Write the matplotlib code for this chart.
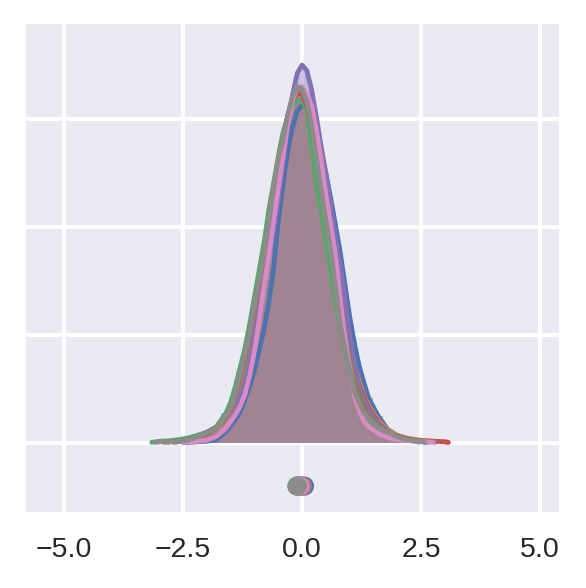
import numpy as np
import matplotlib
matplotlib.use("Agg")
import matplotlib.pyplot as plt

# ---- data (density values on a shared x grid) ----
grid_x = [-3.0, -2.8, -2.6, -2.4, -2.2, -2.0, -1.8, -1.6,
          -1.5, -1.4, -1.3, -1.2, -1.1, -1.0, -0.9, -0.8, -0.7, -0.6,
          -0.5, -0.4, -0.3, -0.2, -0.1, 0.0, 0.1, 0.2, 0.3, 0.4,
          0.5, 0.6, 0.7, 0.8, 0.9, 1.0, 1.1, 1.2, 1.3, 1.4,
          1.6, 1.8, 2.0, 2.2, 2.4, 2.6, 2.8, 3.0]

N = None
blue = [N, N, N, 0.001, 0.002, 0.003, 0.006, 0.020,
        0.032, 0.043, 0.058, 0.080, 0.105, 0.135, 0.17, 0.21, 0.26, 0.32,
        0.41, 0.48, 0.54, 0.585, 0.615, 0.625, 0.62, 0.605, 0.575, 0.54,
        0.50, 0.455, 0.405, 0.355, 0.295, 0.235, 0.185, 0.143, 0.112, 0.083,
        0.050, 0.025, 0.014, 0.008, 0.004, 0.002, N, N]
orange = [N, 0.002, 0.003, 0.005, 0.010, 0.018, 0.028, 0.050,
          0.065, 0.087, 0.122, 0.160, 0.200, 0.252, 0.297, 0.346, 0.401, 0.466,
          0.521, 0.561, 0.605, 0.636, 0.648, 0.646, 0.627, 0.592, 0.542, 0.492,
          0.442, 0.392, 0.338, 0.288, 0.238, 0.193, 0.145, 0.115, 0.088, 0.069,
          0.042, 0.024, 0.014, 0.009, 0.006, 0.004, 0.003, 0.002]
green = [0.003, 0.004, 0.006, 0.009, 0.014, 0.020, 0.030, 0.055,
         0.075, 0.105, 0.140, 0.175, 0.22, 0.27, 0.32, 0.37, 0.43, 0.48,
         0.53, 0.575, 0.605, 0.625, 0.635, 0.635, 0.615, 0.553, 0.48, 0.43,
         0.375, 0.32, 0.265, 0.215, 0.17, 0.132, 0.10, 0.073, 0.054, 0.041,
         0.025, 0.015, 0.009, 0.005, 0.003, N, N, N]
red = [N, N, 0.002, 0.005, 0.010, 0.018, 0.027, 0.048,
       0.063, 0.085, 0.12, 0.158, 0.198, 0.25, 0.295, 0.345, 0.40, 0.465,
       0.52, 0.56, 0.605, 0.635, 0.648, 0.645, 0.625, 0.59, 0.54, 0.49,
       0.44, 0.39, 0.335, 0.285, 0.235, 0.19, 0.138, 0.108, 0.084, 0.065,
       0.038, 0.020, 0.012, 0.008, 0.005, 0.004, 0.003, 0.002]
purple = [N, N, N, 0.002, 0.003, 0.006, 0.012, 0.024,
          0.038, 0.055, 0.082, 0.108, 0.145, 0.195, 0.245, 0.295, 0.345, 0.39,
          0.45, 0.52, 0.59, 0.645, 0.685, 0.70, 0.69, 0.655, 0.605, 0.55,
          0.50, 0.445, 0.38, 0.33, 0.27, 0.20, 0.148, 0.105, 0.078, 0.062,
          0.036, 0.021, 0.011, 0.006, 0.003, 0.002, N, N]
brown = [N, 0.002, 0.003, 0.005, 0.010, 0.019, 0.027, 0.049,
         0.065, 0.088, 0.124, 0.162, 0.202, 0.255, 0.298, 0.347, 0.403, 0.47,
         0.522, 0.56, 0.605, 0.64, 0.655, 0.652, 0.632, 0.592, 0.535, 0.48,
         0.425, 0.375, 0.315, 0.25, 0.20, 0.158, 0.118, 0.090, 0.068, 0.052,
         0.032, 0.020, 0.012, 0.007, 0.004, 0.003, 0.002, N]
pink = [N, N, N, 0.002, 0.003, 0.005, 0.012, 0.028,
        0.040, 0.052, 0.068, 0.090, 0.125, 0.17, 0.228, 0.29, 0.345, 0.41,
        0.47, 0.53, 0.59, 0.635, 0.658, 0.66, 0.648, 0.625, 0.58, 0.525,
        0.46, 0.405, 0.35, 0.27, 0.195, 0.14, 0.088, 0.060, 0.040, 0.030,
        0.018, 0.010, 0.006, 0.004, 0.003, 0.002, N, N]
gray = [0.002, 0.002, 0.003, 0.005, 0.011, 0.020, 0.027, 0.050,
        0.066, 0.090, 0.127, 0.165, 0.205, 0.258, 0.300, 0.348, 0.405, 0.475,
        0.525, 0.561, 0.608, 0.642, 0.660, 0.655, 0.633, 0.590, 0.530, 0.470,
        0.413, 0.360, 0.292, 0.222, 0.175, 0.135, 0.095, 0.073, 0.056, 0.045,
        0.028, 0.020, 0.011, 0.006, 0.004, N, N, N]

series = [blue, orange, green, red, purple, brown, pink, gray]
data_min = [-2.5, -2.8, -3.16, -2.7, -2.5, -2.9, -2.5, -3.07]
data_max = [2.65, 3.08, 2.45, 3.07, 2.6, 2.8, 2.76, 2.57]
tail_density = 0.001
means = [0.05, 0.0, -0.11, -0.05, -0.02, -0.03, -0.04, -0.095]
mean_y = -0.08

colors = ["#4C72B0", "#DD8452", "#55A868", "#C44E52",
          "#8172B3", "#937860", "#DA8BC3", "#8C8C8C"]

xticks = [-5.0, -2.5, 0.0, 2.5, 5.0]
yticks = [0.0, 0.2, 0.4, 0.6]

# ---- figure ----
plt.rcParams["font.family"] = ["Liberation Sans", "DejaVu Sans"]
fig = plt.figure(figsize=(5.86, 5.88), dpi=100)
ax = fig.add_axes([26/586, 1-512/588, (559-26)/586, (512-24)/588])
ax.set_facecolor("#EAEAF2")
for s in ax.spines.values():
    s.set_visible(False)
ax.grid(True, color="white", linewidth=2.9)
ax.set_axisbelow(True)

gx = np.array(grid_x)
mid = (gx[1:] + gx[:-1]) / 2
edges = np.concatenate([[gx[0] - (gx[1] - gx[0]) / 2], mid,
                        [gx[-1] + (gx[-1] - gx[-2]) / 2]])
widths = np.diff(edges)

for vals, lo, hi, c in zip(series, data_min, data_max, colors):
    assert len(vals) == len(gx)
    v = np.array([np.nan if a is None else a for a in vals], dtype=float)
    m = ~np.isnan(v)
    ax.bar(edges[:-1][m], v[m], width=widths[m], align="edge",
           color=c, alpha=0.4, linewidth=0, zorder=2)
    lx = np.concatenate([[lo], gx[m], [hi]])
    ly = np.concatenate([[tail_density], v[m], [tail_density]])
    ax.plot(lx, ly, color=c, linewidth=3.4, solid_capstyle="round",
            solid_joinstyle="round", zorder=3)

for mu, c in zip(means, colors):
    ax.scatter([mu], [mean_y], s=190, color=c, edgecolor="none", zorder=4)

ax.set_xlim(-5.80, 5.40)
ax.set_ylim(-0.128, 0.776)
ax.set_xticks(xticks)
ax.set_xticklabels([f"{t:.1f}".replace("-", "\u2212") for t in xticks])
ax.set_yticks(yticks)
ax.set_yticklabels([])
ax.tick_params(axis="both", length=0, labelsize=20.5, colors="#262626", pad=18)

fig.savefig("out.png", dpi=100)
